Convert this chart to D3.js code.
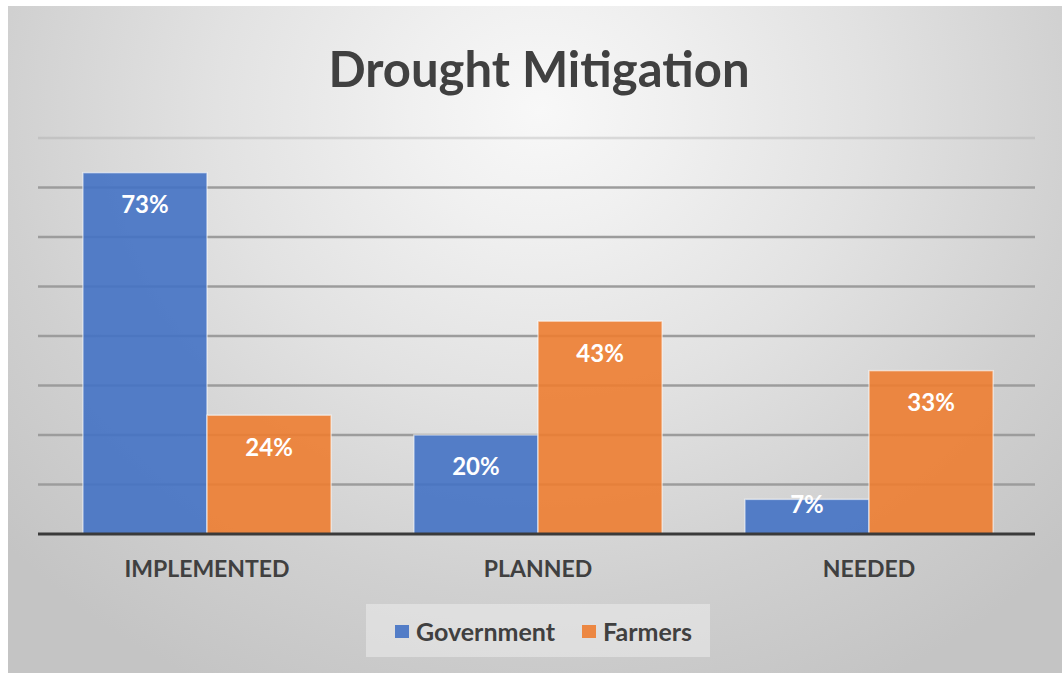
<!DOCTYPE html>
<html>
<head>
<meta charset="utf-8">
<script src="https://cdn.jsdelivr.net/npm/d3@7"></script>
<style>
  html, body { margin: 0; padding: 0; background: #ffffff; }
  svg { display: block; }
  text { font-family: Lato, "Open Sans", sans-serif; font-weight: 700; }
</style>
</head>
<body>
<svg id="chart" width="1062" height="673"></svg>
<script>
// Chart content
const title = "Drought Mitigation";
const categories = ["IMPLEMENTED", "PLANNED", "NEEDED"];
const seriesNames = ["Government", "Farmers"];
const government = [73, 20, 7];
const farmers = [24, 43, 33];
const gridTicks = [10, 20, 30, 40, 50, 60, 70, 80];
const colors = ["#4472C4", "#ED7D31"];

const W = 1062, H = 673;
const svg = d3.select("#chart");

// Background panel with soft radial shading
const defs = svg.append("defs");
const rg = defs.append("radialGradient")
  .attr("id", "bg").attr("gradientUnits", "userSpaceOnUse")
  .attr("cx", 540).attr("cy", 110).attr("r", 720)
  .attr("gradientTransform", "translate(540,110) scale(1,0.9) translate(-540,-110)");
rg.append("stop").attr("offset", "0").attr("stop-color", "#f8f8f8");
rg.append("stop").attr("offset", "0.18").attr("stop-color", "#f0f0f0");
rg.append("stop").attr("offset", "0.45").attr("stop-color", "#e2e2e2");
rg.append("stop").attr("offset", "0.75").attr("stop-color", "#d0d0d0");
rg.append("stop").attr("offset", "1").attr("stop-color", "#c4c4c4");

svg.append("rect").attr("x", 8).attr("y", 6).attr("width", W - 8).attr("height", H - 6)
  .attr("fill", "url(#bg)");

// Scales
const x0 = d3.scaleBand().domain(categories).range([41.5, 1034.5])
  .paddingInner(0.25).paddingOuter(0.125);
const x1 = d3.scaleBand().domain(seriesNames).range([0, x0.bandwidth()]);
const y = d3.scaleLinear().domain([0, 80]).range([534, 138]);

// Title
svg.append("text").attr("x", 539).attr("y", 87)
  .attr("text-anchor", "middle").attr("fill", "#404040")
  .style("font-size", "49px").text(title);

// Gridlines
svg.append("g").selectAll("line").data(gridTicks).join("line")
  .attr("x1", 38).attr("x2", 1035)
  .attr("y1", d => y(d)).attr("y2", d => y(d))
  .attr("stroke", "#9c9c9c").attr("stroke-width", 2.4)
  .attr("stroke-opacity", d => d === 80 ? 0.3 : 1);

// Bars
const rows = categories.map((c, i) => ({ cat: c, vals: [government[i], farmers[i]] }));
const groups = svg.append("g").selectAll("g").data(rows).join("g")
  .attr("transform", d => `translate(${x0(d.cat)},0)`);

groups.selectAll("rect").data(d => d.vals.map((v, j) => ({ v, s: seriesNames[j], j })))
  .join("rect")
  .attr("x", d => x1(d.s))
  .attr("y", d => y(d.v))
  .attr("width", x1.bandwidth())
  .attr("height", d => y(0) - y(d.v))
  .attr("fill", d => colors[d.j]).attr("fill-opacity", 0.9)
  .attr("stroke", "rgba(255,255,255,0.55)").attr("stroke-width", 1.5);

// Value labels inside the bar ends
groups.selectAll("text").data(d => d.vals.map((v, j) => ({ v, s: seriesNames[j], j })))
  .join("text")
  .attr("x", d => x1(d.s) + x1.bandwidth() / 2)
  .attr("y", d => {
    const h = y(0) - y(d.v);
    return y(d.v) + Math.min(32, h - 29);
  })
  .attr("dy", "0.35em")
  .attr("text-anchor", "middle").attr("fill", "#ffffff")
  .style("font-size", "24px")
  .text(d => d.v + "%");

// Baseline
svg.append("line").attr("x1", 38).attr("x2", 1035).attr("y1", y(0)).attr("y2", y(0))
  .attr("stroke", "#3a3a3a").attr("stroke-width", 3);

// Category axis labels
const xAxis = svg.append("g").attr("transform", `translate(0,${y(0)})`)
  .call(d3.axisBottom(x0).tickSize(0).tickPadding(27));
xAxis.select(".domain").remove();
xAxis.selectAll("text").attr("fill", "#404040")
  .style("font-size", "23px").style("font-family", "Lato, sans-serif").style("font-weight", "700");

// Legend
const legend = svg.append("g");
legend.append("rect").attr("x", 366).attr("y", 604).attr("width", 344).attr("height", 53)
  .attr("fill", "#ececec").attr("fill-opacity", 0.55);
const legendX = [395, 582];
const items = legend.selectAll("g").data(seriesNames).join("g")
  .attr("transform", (d, i) => `translate(${legendX[i]},625)`);
items.append("rect").attr("width", 14).attr("height", 13)
  .attr("fill", (d, i) => colors[i]).attr("fill-opacity", 0.9);
items.append("text").attr("x", 21).attr("y", 7).attr("dy", "0.35em")
  .attr("fill", "#404040").style("font-size", "25px").text(d => d);
</script>
</body>
</html>
